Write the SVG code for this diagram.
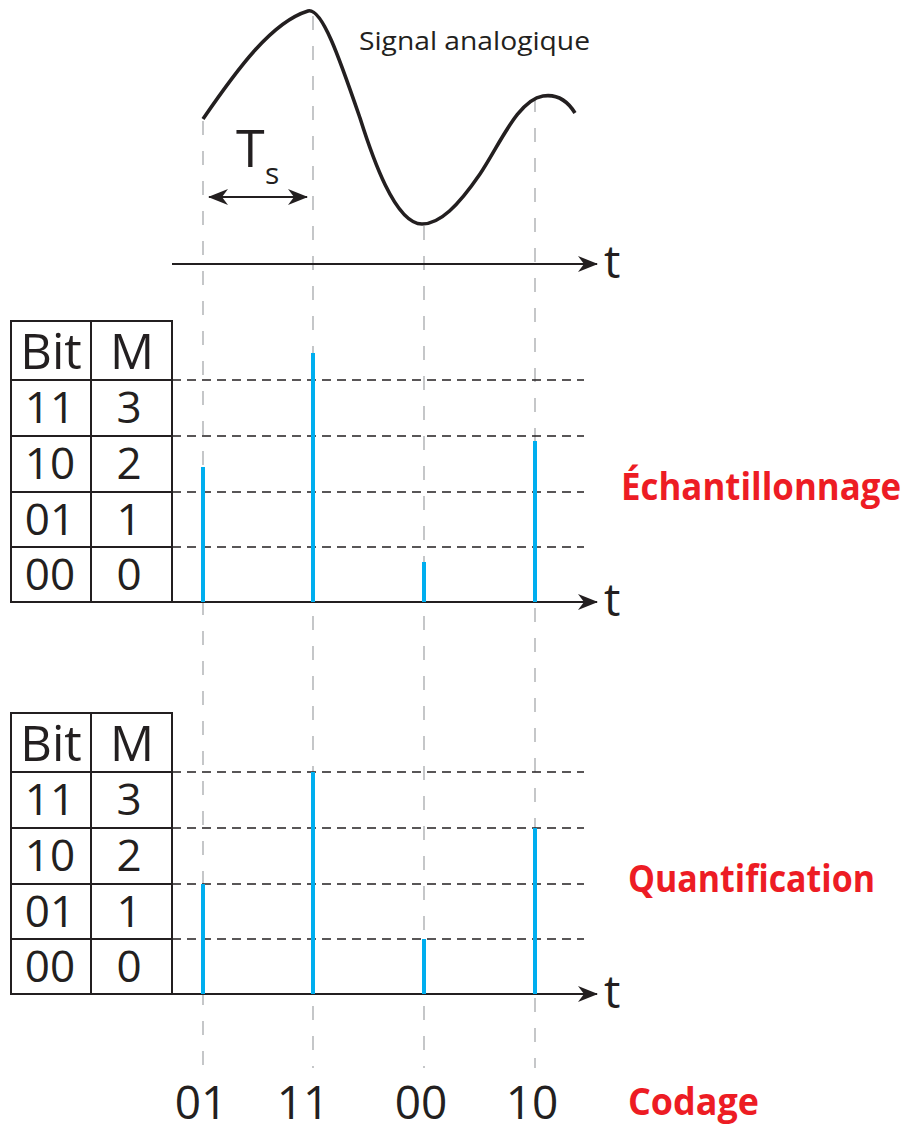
<svg xmlns="http://www.w3.org/2000/svg" width="906" height="1124" viewBox="0 0 906 1124">
<style>
.txt{font-family:"Open Sans","Liberation Sans",sans-serif;fill:#231f20}
.red{font-family:"Open Sans","Liberation Sans",sans-serif;font-weight:bold;fill:#ed1c24;font-size:38px}
.tab{fill:none;stroke:#231f20;stroke-width:2}
.hd{stroke:#231f20;stroke-width:1.6;stroke-dasharray:9 6;fill:none}
.vd{stroke:#a7a9ac;stroke-width:1.3;stroke-dasharray:14 16;fill:none}
.stem{stroke:#00aeef;stroke-width:4;fill:none}
.axis{stroke:#231f20;stroke-width:2.2;fill:none}
.big{font-size:49px;text-anchor:middle}
.dig{font-size:44px;text-anchor:middle}
</style>
<defs>
<marker id="ah" viewBox="0 0 20 16" refX="19" refY="8" markerWidth="20" markerHeight="16" markerUnits="userSpaceOnUse" orient="auto-start-reverse">
<path d="M0,0 L20,8 L0,16 L6,8 Z" fill="#231f20"/>
</marker>
</defs>

<g id="guides">
<line class="vd" x1="203" y1="121" x2="203" y2="1068"/>
<line class="vd" x1="313" y1="16" x2="313" y2="1068"/>
<line class="vd" x1="424" y1="226" x2="424" y2="1068"/>
<line class="vd" x1="535" y1="98" x2="535" y2="1068"/>
</g>

<g id="signal">
<path d="M203,119 C238,68 272,22 308,11 C322,7 340,60 360,118 C372,156 395,224 422,224 C440,224 458,206 480,174 C500,144 518,100 543,96 C556,94 567,100 575,113" fill="none" stroke="#231f20" stroke-width="3.6" stroke-linecap="butt"/>
<text class="txt" x="359" y="50" font-size="26" textLength="231" lengthAdjust="spacingAndGlyphs">Signal analogique</text>
</g>

<g id="period">
<text class="txt" x="236" y="167" font-size="52">T</text>
<text class="txt" x="265" y="184" font-size="30">s</text>
</g>

<g id="connectors">
<line class="axis" x1="172" y1="264" x2="597" y2="264" marker-end="url(#ah)"/>
<line x1="209" y1="197" x2="307" y2="197" stroke="#231f20" stroke-width="2.2" marker-start="url(#ah)" marker-end="url(#ah)"/>
<line class="axis" x1="10" y1="602" x2="597" y2="602" marker-end="url(#ah)"/>
<line class="axis" x1="10" y1="994" x2="597" y2="994" marker-end="url(#ah)"/>
</g>

<text class="txt" x="604" y="278" font-size="46">t</text>
<text class="txt" x="604" y="616" font-size="46">t</text>
<text class="txt" x="604" y="1008" font-size="46">t</text>

<g id="table1">
<rect class="tab" x="11" y="321" width="161" height="281"/>
<line class="tab" x1="91" y1="321" x2="91" y2="602"/>
<line class="tab" x1="11" y1="380" x2="172" y2="380"/>
<line class="tab" x1="11" y1="436" x2="172" y2="436"/>
<line class="tab" x1="11" y1="492" x2="172" y2="492"/>
<line class="tab" x1="11" y1="547" x2="172" y2="547"/>
<text class="txt big" x="51" y="369">Bit</text>
<text class="txt big" x="132" y="369">M</text>
<text class="txt dig" x="50" y="423">11</text><text class="txt dig" x="129" y="423">3</text>
<text class="txt dig" x="50" y="479">10</text><text class="txt dig" x="129" y="479">2</text>
<text class="txt dig" x="50" y="535">01</text><text class="txt dig" x="129" y="535">1</text>
<text class="txt dig" x="50" y="590">00</text><text class="txt dig" x="129" y="590">0</text>
</g>

<g id="levels1">
<line class="hd" x1="172" y1="380" x2="584" y2="380"/>
<line class="hd" x1="172" y1="436" x2="584" y2="436"/>
<line class="hd" x1="172" y1="492" x2="584" y2="492"/>
<line class="hd" x1="172" y1="547" x2="584" y2="547"/>
</g>

<g id="samples1">
<line class="stem" x1="203" y1="467" x2="203" y2="602"/>
<line class="stem" x1="313" y1="353" x2="313" y2="602"/>
<line class="stem" x1="424" y1="562" x2="424" y2="602"/>
<line class="stem" x1="535" y1="441" x2="535" y2="602"/>
</g>

<g id="table2">
<rect class="tab" x="11" y="713" width="161" height="281"/>
<line class="tab" x1="91" y1="713" x2="91" y2="994"/>
<line class="tab" x1="11" y1="772" x2="172" y2="772"/>
<line class="tab" x1="11" y1="828" x2="172" y2="828"/>
<line class="tab" x1="11" y1="884" x2="172" y2="884"/>
<line class="tab" x1="11" y1="939" x2="172" y2="939"/>
<text class="txt big" x="51" y="761">Bit</text>
<text class="txt big" x="132" y="761">M</text>
<text class="txt dig" x="50" y="815">11</text><text class="txt dig" x="129" y="815">3</text>
<text class="txt dig" x="50" y="871">10</text><text class="txt dig" x="129" y="871">2</text>
<text class="txt dig" x="50" y="927">01</text><text class="txt dig" x="129" y="927">1</text>
<text class="txt dig" x="50" y="982">00</text><text class="txt dig" x="129" y="982">0</text>
</g>

<g id="levels2">
<line class="hd" x1="172" y1="772" x2="584" y2="772"/>
<line class="hd" x1="172" y1="828" x2="584" y2="828"/>
<line class="hd" x1="172" y1="884" x2="584" y2="884"/>
<line class="hd" x1="172" y1="939" x2="584" y2="939"/>
</g>

<g id="samples2">
<line class="stem" x1="203" y1="884" x2="203" y2="994"/>
<line class="stem" x1="313" y1="772" x2="313" y2="994"/>
<line class="stem" x1="424" y1="939" x2="424" y2="994"/>
<line class="stem" x1="535" y1="828" x2="535" y2="994"/>
</g>

<g id="codes">
<text class="txt" x="201" y="1119" font-size="46" text-anchor="middle">01</text>
<text class="txt" x="303" y="1119" font-size="46" text-anchor="middle">11</text>
<text class="txt" x="421" y="1119" font-size="46" text-anchor="middle">00</text>
<text class="txt" x="532" y="1119" font-size="46" text-anchor="middle">10</text>
</g>

<g id="labels">
<text class="red" x="621" y="500" textLength="280" lengthAdjust="spacingAndGlyphs">Échantillonnage</text>
<text class="red" x="628" y="892" textLength="247" lengthAdjust="spacingAndGlyphs">Quantification</text>
<text class="red" x="628" y="1115" textLength="131" lengthAdjust="spacingAndGlyphs">Codage</text>
</g>
</svg>
